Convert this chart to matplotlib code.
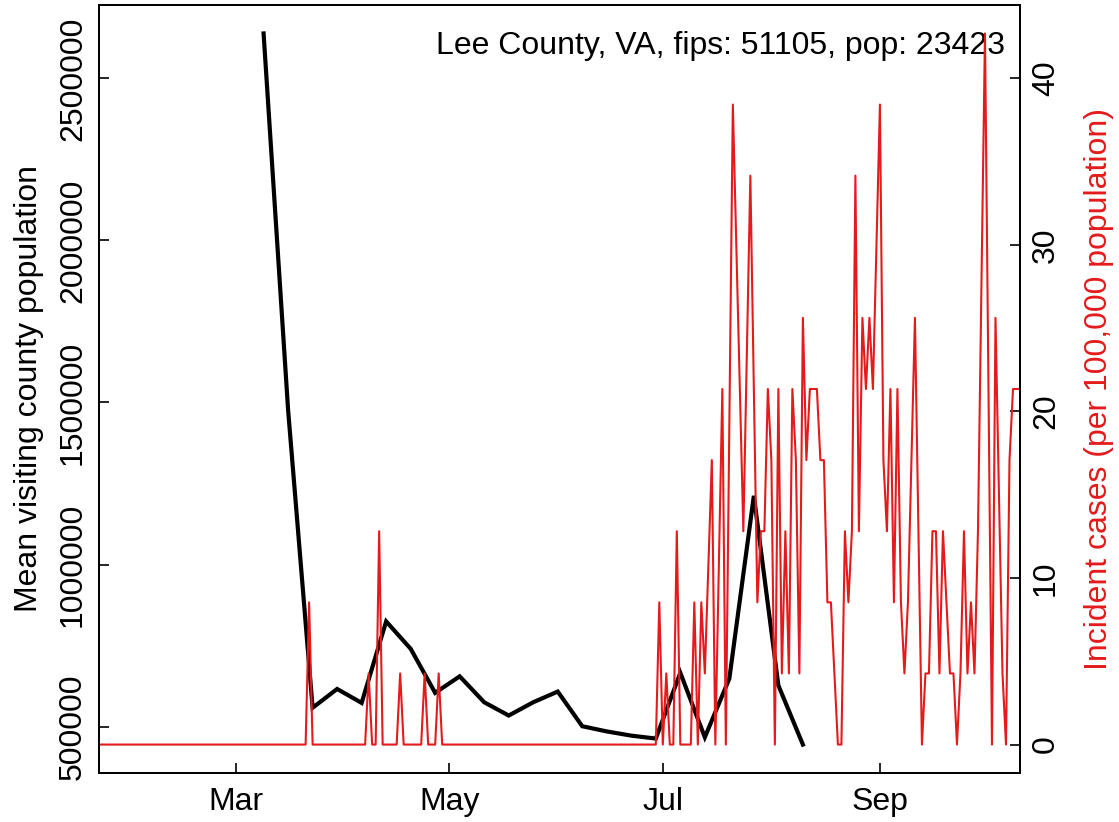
import matplotlib
matplotlib.use("Agg")
import matplotlib.pyplot as plt
import numpy as np
from datetime import datetime

plt.rcParams['font.family'] = ['Liberation Sans', 'DejaVu Sans']

county_label = "Lee County, VA, fips: 51105, pop: 23423"
population = 23423

# weekly mean visiting county population (black line)
mob_dates = ["2020-03-09", "2020-03-16", "2020-03-23", "2020-03-30", "2020-04-06",
             "2020-04-13", "2020-04-20", "2020-04-27", "2020-05-04", "2020-05-11",
             "2020-05-18", "2020-05-25", "2020-06-01", "2020-06-08", "2020-06-15",
             "2020-06-22", "2020-06-29", "2020-07-06", "2020-07-13", "2020-07-20",
             "2020-07-27", "2020-08-03", "2020-08-10"]
mob_values = [2638700, 1477000, 558000, 616000, 573000,
              824500, 740000, 604000, 655000, 575000,
              534000, 575000, 608000, 501000, 485000,
              472000, 463000, 666000, 467000, 648000,
              1212000, 627000, 444500]

# daily incident cases (line vertices)
case_dates = ["2020-01-22", "2020-03-21", "2020-03-22", "2020-03-23", "2020-04-07",
              "2020-04-08", "2020-04-09", "2020-04-10", "2020-04-11", "2020-04-12",
              "2020-04-16", "2020-04-17", "2020-04-18", "2020-04-23", "2020-04-24",
              "2020-04-25", "2020-04-27", "2020-04-28", "2020-04-29", "2020-06-29",
              "2020-06-30", "2020-07-01", "2020-07-02", "2020-07-03", "2020-07-04",
              "2020-07-05", "2020-07-06", "2020-07-09", "2020-07-10", "2020-07-11",
              "2020-07-12", "2020-07-13", "2020-07-15", "2020-07-16", "2020-07-18",
              "2020-07-19", "2020-07-21", "2020-07-24", "2020-07-26", "2020-07-28",
              "2020-07-29", "2020-07-30", "2020-07-31", "2020-08-01", "2020-08-02",
              "2020-08-03", "2020-08-04", "2020-08-05", "2020-08-06", "2020-08-07",
              "2020-08-08", "2020-08-09", "2020-08-10", "2020-08-11", "2020-08-12",
              "2020-08-14", "2020-08-15", "2020-08-16", "2020-08-17", "2020-08-18",
              "2020-08-20", "2020-08-21", "2020-08-22", "2020-08-23", "2020-08-24",
              "2020-08-25", "2020-08-26", "2020-08-27", "2020-08-28", "2020-08-29",
              "2020-08-30", "2020-09-01", "2020-09-02", "2020-09-03", "2020-09-04",
              "2020-09-05", "2020-09-06", "2020-09-07", "2020-09-08", "2020-09-09",
              "2020-09-11", "2020-09-13", "2020-09-14", "2020-09-15", "2020-09-16",
              "2020-09-17", "2020-09-18", "2020-09-19", "2020-09-21", "2020-09-22",
              "2020-09-23", "2020-09-24", "2020-09-25", "2020-09-26", "2020-09-27",
              "2020-09-28", "2020-09-29", "2020-10-01", "2020-10-03", "2020-10-04",
              "2020-10-06", "2020-10-07", "2020-10-08", "2020-10-09", "2020-10-11"]
case_counts = [0, 0, 2, 0, 0,
               1, 0, 0, 3, 0,
               0, 1, 0, 0, 1,
               0, 0, 1, 0, 0,
               2, 0, 1, 0, 0,
               3, 0, 0, 2, 0,
               2, 1, 4, 0, 5,
               0, 9, 3, 8, 2,
               3, 3, 5, 4, 0,
               5, 1, 3, 1, 5,
               4, 1, 6, 4, 5,
               5, 4, 4, 2, 2,
               0, 0, 3, 2, 3,
               8, 3, 6, 5, 6,
               5, 9, 4, 3, 5,
               2, 5, 2, 1, 2,
               6, 0, 1, 1, 3,
               3, 1, 3, 1, 1,
               0, 1, 3, 1, 2,
               1, 3, 10, 0, 6,
               1, 0, 4, 5, 5]

month_ticks = ["2020-03-01", "2020-05-01", "2020-07-01", "2020-09-01"]
month_labels = ["Mar", "May", "Jul", "Sep"]
x_range = ["2020-01-22", "2020-10-11"]

red = "#E41A1C"


def to_dt(lst):
    return [datetime.strptime(s, "%Y-%m-%d") for s in lst]


fig = plt.figure(figsize=(11.19, 8.22), dpi=100)
ax1 = fig.add_axes([99 / 1119, 1 - 773 / 822, 921 / 1119, 768 / 822])
ax2 = ax1.twinx()

ax1.plot(to_dt(mob_dates), mob_values, color="black", lw=3.0, solid_joinstyle="miter")
incid = np.array(case_counts) * 100000 / population
ax2.plot(to_dt(case_dates), incid, color=red, lw=1.5)

ax1.set_xlim(to_dt(x_range))
ax1.set_ymargin(0.04)
ax2.set_ymargin(0.04)
ax1.autoscale(axis="y")
ax2.autoscale(axis="y")

ax1.set_xticks(to_dt(month_ticks))
ax1.set_xticklabels(month_labels)
ax1.set_yticks([500000, 1000000, 1500000, 2000000, 2500000])
ax1.set_yticklabels(["500000", "1000000", "1500000", "2000000", "2500000"],
                    rotation=90, va="center")
ax2.set_yticks([0, 10, 20, 30, 40])
ax2.set_yticklabels(["0", "10", "20", "30", "40"], rotation=90, va="center")

for ax in (ax1, ax2):
    ax.tick_params(direction="in", length=7, width=1.2, labelsize=23)
    for sp in ax.spines.values():
        sp.set_linewidth(1.3)
ax1.tick_params(axis="y", pad=8)
ax1.tick_params(axis="x", pad=10)
ax2.tick_params(axis="y", pad=8)

fig.text(29 / 1119, 1 - 389 / 822, "Mean visiting county population",
         rotation=90, ha="center", va="center", fontsize=23)
fig.text(1099 / 1119, 1 - 389 / 822, "Incident cases (per 100,000 population)",
         rotation=90, ha="center", va="center", fontsize=23, color=red)
ax1.text(0.9837, 0.9466, county_label, transform=ax1.transAxes,
         ha="right", va="center", fontsize=23)

fig.savefig("out.png", dpi=100)
